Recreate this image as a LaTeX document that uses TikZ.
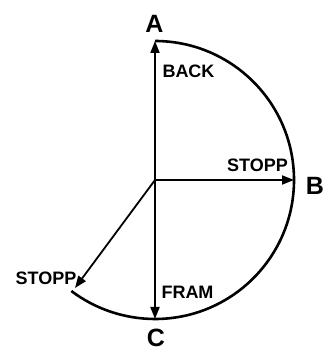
\documentclass[tikz,border=0pt]{standalone}
\usepackage{fontspec}
\setmainfont{Liberation Sans}
\usetikzlibrary{arrows.meta}
\begin{document}
\begin{tikzpicture}[x=1pt,y=1pt,
  arr/.style={line width=1.8pt,-{Triangle[length=12pt,width=9pt]}},
  rim/.style={line width=2.6pt},
  big/.style={inner sep=0,font=\fontsize{25}{25}\selectfont\bfseries},
  lab/.style={inner sep=0,font=\fontsize{18}{18}\selectfont\bfseries}]
\useasboundingbox (0,0) rectangle (325,350);
\coordinate (o) at (155,170);
\coordinate (a) at (155,309);
\coordinate (b) at (294,170);
\coordinate (c) at (155,31);
\coordinate (d) at (75,62);
\draw[rim] (a) arc[start angle=90,end angle=-127,radius=139];
\draw[arr] (o) -- (a);
\draw[arr] (o) -- (b);
\draw[arr] (o) -- (c);
\draw[arr] (o) -- (d);
\node[big] (A) at (154.5,326) {A};
\node[big] (B) at (315,164) {B};
\node[big] (C) at (156,12.5) {C};
\node[lab] (back) at (188.5,279) {BACK};
\node[lab] (stoppr) at (257.5,185) {STOPP};
\node[lab] (fram) at (187.5,57.5) {FRAM};
\node[lab] (stoppl) at (46,71.3) {STOPP};
\end{tikzpicture}
\end{document}
